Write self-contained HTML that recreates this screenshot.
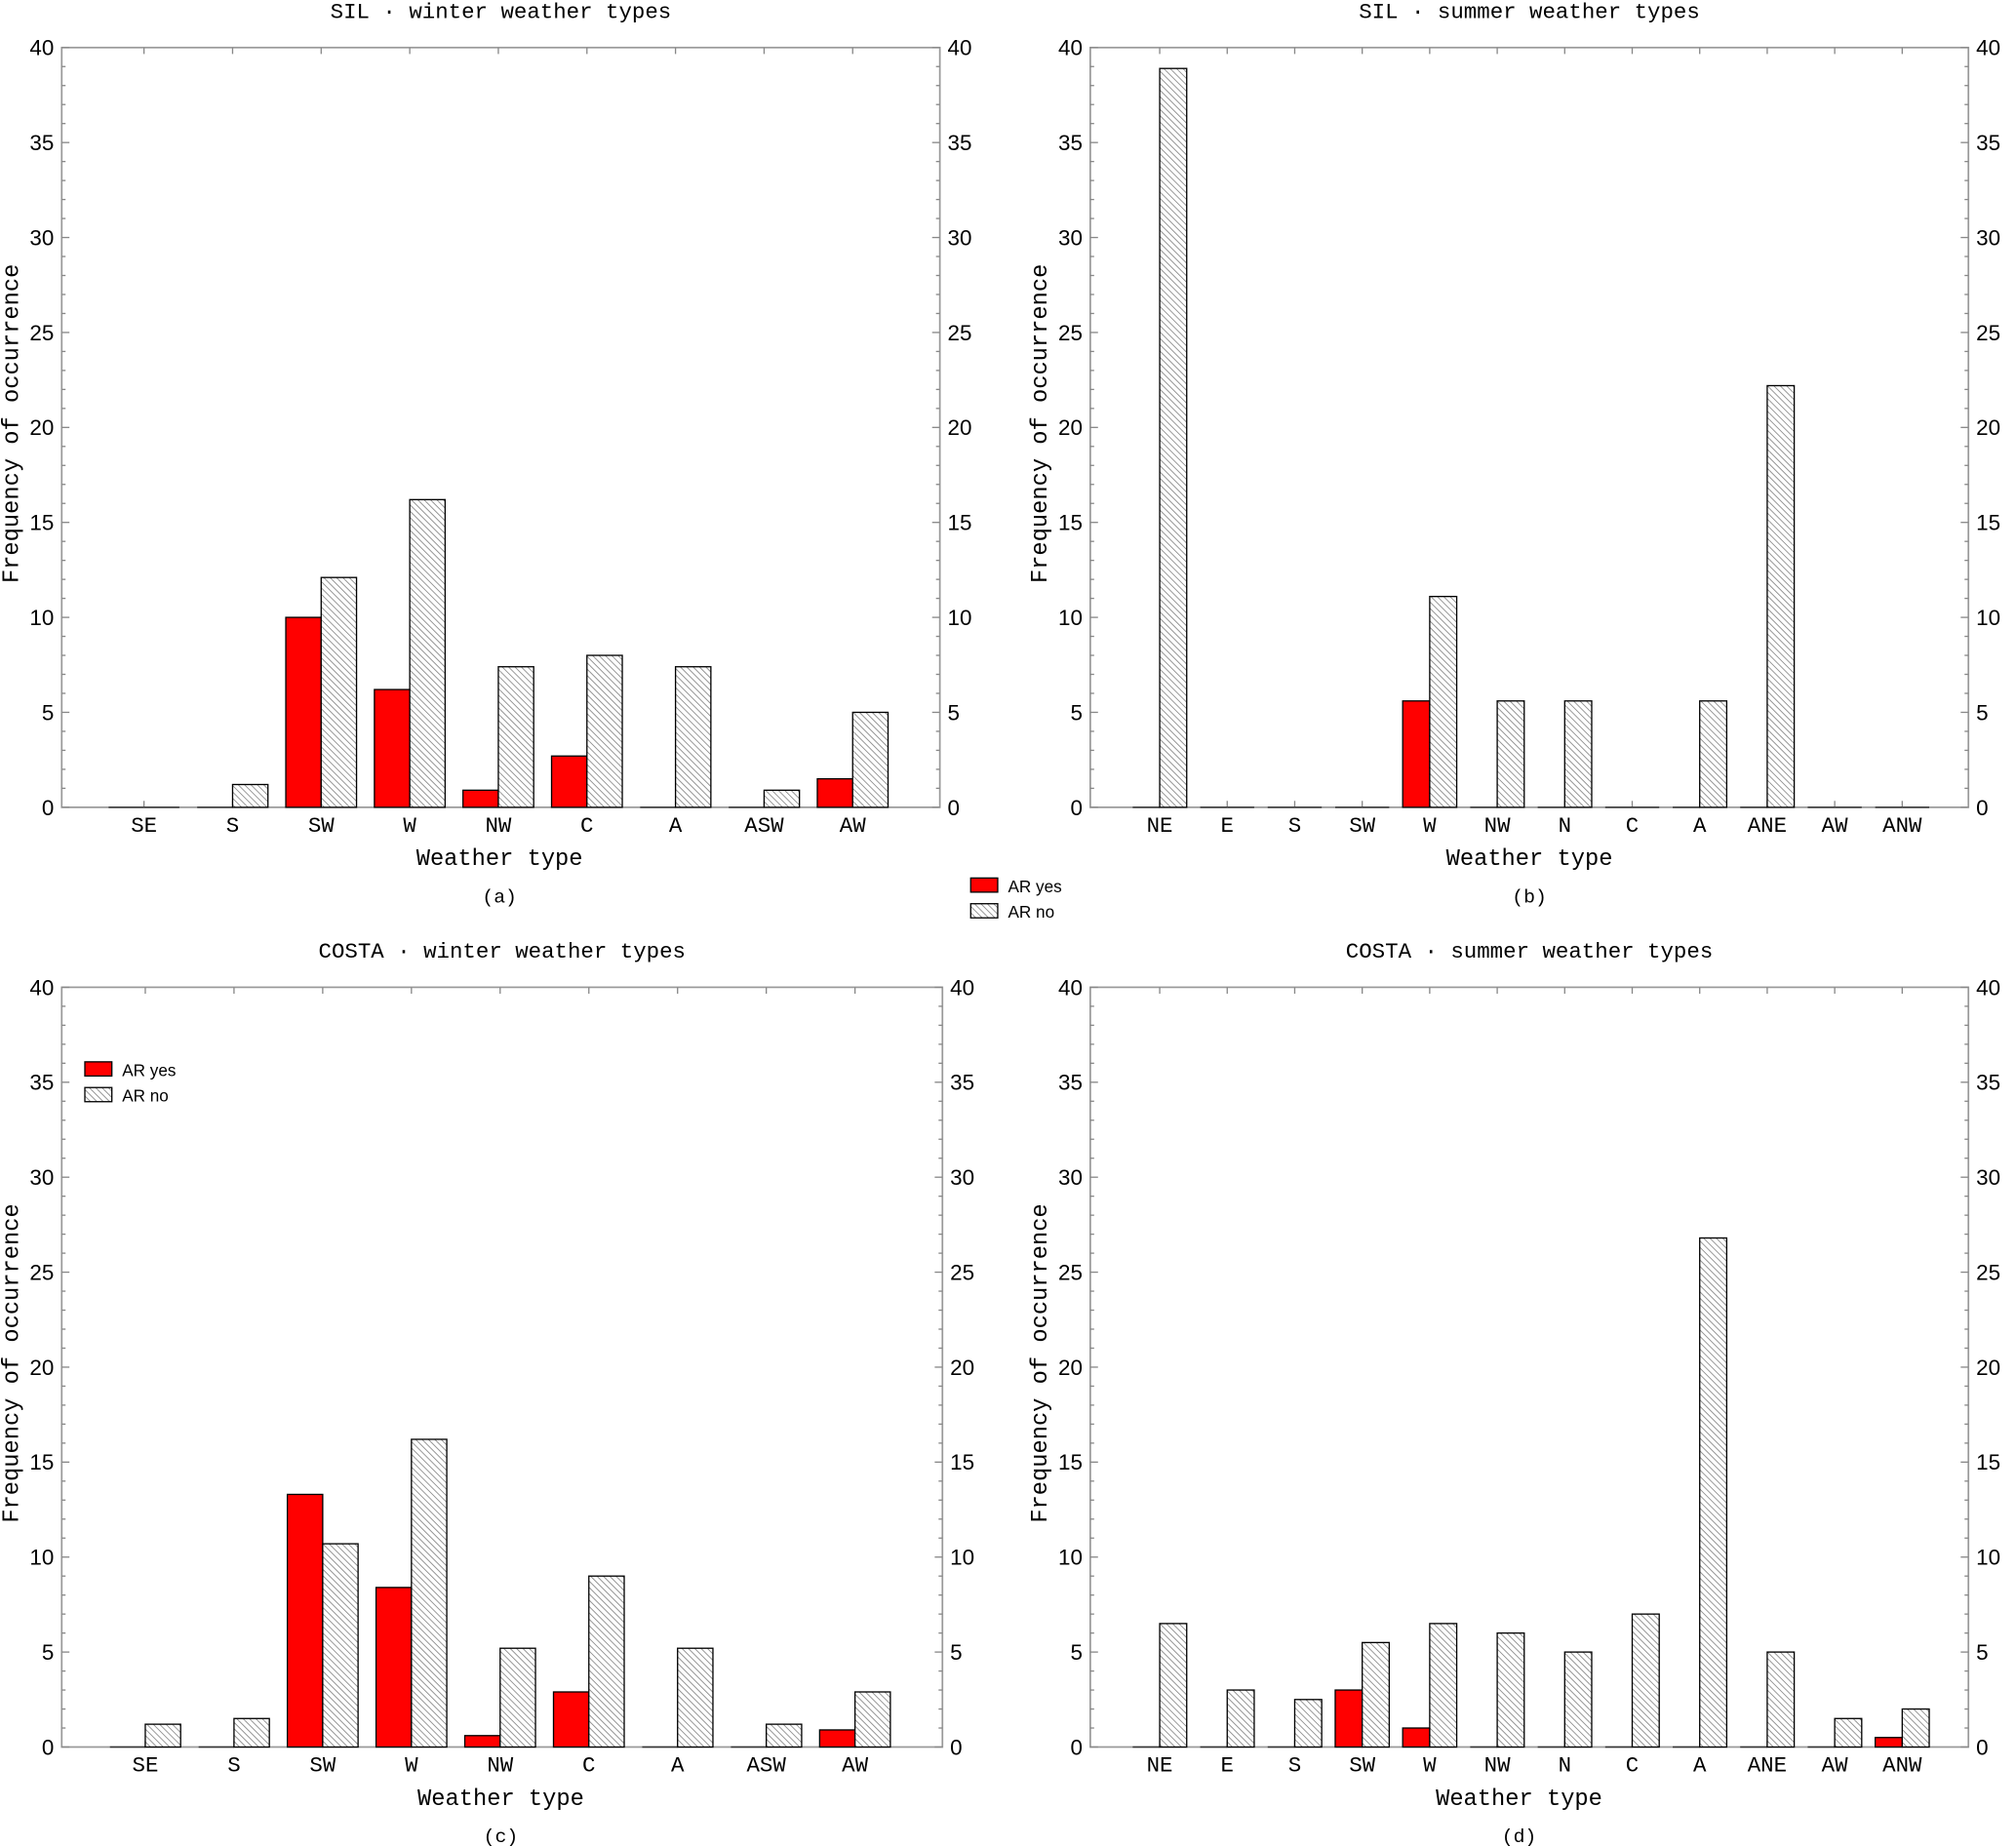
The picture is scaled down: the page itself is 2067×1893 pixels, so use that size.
<!DOCTYPE html>
<html><head><meta charset="utf-8"><style>
html,body{margin:0;padding:0;background:#fff;}
svg{display:block;}
text{font-family:"Liberation Mono",monospace;fill:#000;}
.num{font-family:"Liberation Sans",sans-serif;}
</style></head><body>
<svg id="fig" width="2067" height="1893" viewBox="0 0 1568 1436" xmlns="http://www.w3.org/2000/svg">
<defs>
<pattern id="hatch" patternUnits="userSpaceOnUse" width="3.5" height="3.5" patternTransform="rotate(-45)">
<rect width="3.5" height="3.5" fill="#fff"/>
<line x1="0" y1="0" x2="0" y2="3.5" stroke="#888" stroke-width="1.3"/>
</pattern>
</defs>
</svg>
<script>
const catsWinter = ["SE","S","SW","W","NW","C","A","ASW","AW"];
const catsSummer = ["NE","E","S","SW","W","NW","N","C","A","ANE","AW","ANW"];
const silWinterYes = [0,0,10,6.2,0.9,2.7,0,0,1.5];
const silWinterNo = [0,1.2,12.1,16.2,7.4,8.0,7.4,0.9,5.0];
const silSummerYes = [0,0,0,0,5.6,0,0,0,0,0,0,0];
const silSummerNo = [38.9,0,0,0,11.1,5.6,5.6,0,5.6,22.2,0,0];
const costaWinterYes = [0,0,13.3,8.4,0.6,2.9,0,0,0.9];
const costaWinterNo = [1.2,1.5,10.7,16.2,5.2,9.0,5.2,1.2,2.9];
const costaSummerYes = [0,0,0,3.0,1.0,0,0,0,0,0,0,0.5];
const costaSummerNo = [6.5,3.0,2.5,5.5,6.5,6.0,5.0,7.0,26.8,5.0,1.5,2.0];
const yTicks = [0,5,10,15,20,25,30,35,40];

const NS="http://www.w3.org/2000/svg";
const svg=document.getElementById('fig');
function mk(tag,attrs,parent){const e=document.createElementNS(NS,tag);for(const k in attrs)e.setAttribute(k,attrs[k]);(parent||svg).appendChild(e);return e;}
function txt(s,attrs,parent){const e=mk('text',attrs,parent);e.textContent=s;return e;}

function panel(opt){
  const g=mk('g',{});
  
  
  const L=opt.left,R=opt.right,T=opt.top,B=opt.bottom;
  const y=v=>B-(v/40)*(B-T);
  const x=i=>opt.first+i*opt.step;
  const bw=opt.bw;
  const fr=mk('rect',{x:L,y:T,width:R-L,height:B-T,fill:'none',stroke:'#999','stroke-width':1.3},g);
  
  
  for(let v=0;v<=40;v++){
    const len=(v%5===0)?6:3;
    mk('line',{x1:L,y1:y(v),x2:L+len,y2:y(v),stroke:'#888','stroke-width':1},g);
    mk('line',{x1:R,y1:y(v),x2:R-len,y2:y(v),stroke:'#888','stroke-width':1},g);
  }
  yTicks.forEach(v=>{
    const a=txt(String(v),{x:L-6,y:y(v)+6,'text-anchor':'end','font-size':17,class:'num'},g);
    
    
    const b=txt(String(v),{x:R+6,y:y(v)+6,'text-anchor':'start','font-size':17,class:'num'},g);
    
    
  });
  opt.cats.forEach((c,i)=>{
    mk('line',{x1:x(i),y1:B,x2:x(i),y2:B-5,stroke:'#888','stroke-width':1},g);
    mk('line',{x1:x(i),y1:T,x2:x(i),y2:T+5,stroke:'#888','stroke-width':1},g);
    const t=txt(c,{x:x(i),y:B+19,'text-anchor':'middle','font-size':17},g);
    
    
  });
  opt.cats.forEach((c,i)=>{
    [[opt.yes,x(i)-bw,'#ff0000','bar-ar-yes'],[opt.no,x(i),'url(#hatch)','bar-ar-no']].forEach(([arr,x0,fill,nm])=>{
      const v=arr[i];
      let el;
      if(v>0){
        el=mk('rect',{x:x0,y:y(v),width:bw,height:B-y(v),fill:fill,stroke:'#000','stroke-width':1},g);
      } else {
        el=mk('line',{x1:x0,y1:B,x2:x0+bw,y2:B,stroke:'#333','stroke-width':1.2},g);
      }
      
      
    });
  });
  const cx=(L+R)/2;
  const ti=txt(opt.title,{x:cx,y:T-23,'text-anchor':'middle','font-size':17},g);
  
  
  const xt=txt('Weather type',{x:cx+opt.xtOff,y:B+45,'text-anchor':'middle','font-size':18},g);
  
  
  const yt=txt('Frequency of occurrence',{x:0,y:0,'text-anchor':'middle','font-size':18,transform:`translate(${L-34},${(T+B)/2 - 3}) rotate(-90)`},g);
  
  
  const lab=txt(opt.label,{x:cx+opt.xtOff,y:B+74,'text-anchor':'middle','font-size':15},g);
  
  
}

panel({name:'panel-a-sil-winter',left:48,right:731,top:37,bottom:628,cats:catsWinter,yes:silWinterYes,no:silWinterNo,first:112,step:68.9,bw:27.5,title:'SIL · winter weather types',label:'(a)',xtOff:-1});
panel({name:'panel-b-sil-summer',left:848,right:1531,top:37,bottom:628,cats:catsSummer,yes:silSummerYes,no:silSummerNo,first:902,step:52.5,bw:21,title:'SIL · summer weather types',label:'(b)',xtOff:0});
panel({name:'panel-c-costa-winter',left:48,right:733,top:768,bottom:1359,cats:catsWinter,yes:costaWinterYes,no:costaWinterNo,first:113,step:69,bw:27.5,title:'COSTA · winter weather types',label:'(c)',xtOff:-1});
panel({name:'panel-d-costa-summer',left:848,right:1531,top:768,bottom:1359,cats:catsSummer,yes:costaSummerYes,no:costaSummerNo,first:902,step:52.5,bw:21,title:'COSTA · summer weather types',label:'(d)',xtOff:-8});

function legend(x0,y0,name){
  const g=mk('g',{});
  
  
  const r1=mk('rect',{x:x0,y:y0,width:21,height:11,fill:'#ff0000',stroke:'#000','stroke-width':1},g);
  
  
  const t1=txt('AR yes',{x:x0+29,y:y0+11,'font-size':13,class:'num'},g);
  
  
  const r2=mk('rect',{x:x0,y:y0+20,width:21,height:11,fill:'url(#hatch)',stroke:'#000','stroke-width':1},g);
  
  
  const t2=txt('AR no',{x:x0+29,y:y0+31,'font-size':13,class:'num'},g);
  
  
}
legend(755,683,'legend-center');
legend(66,826,'legend-panel-c');
</script>
</body></html>
